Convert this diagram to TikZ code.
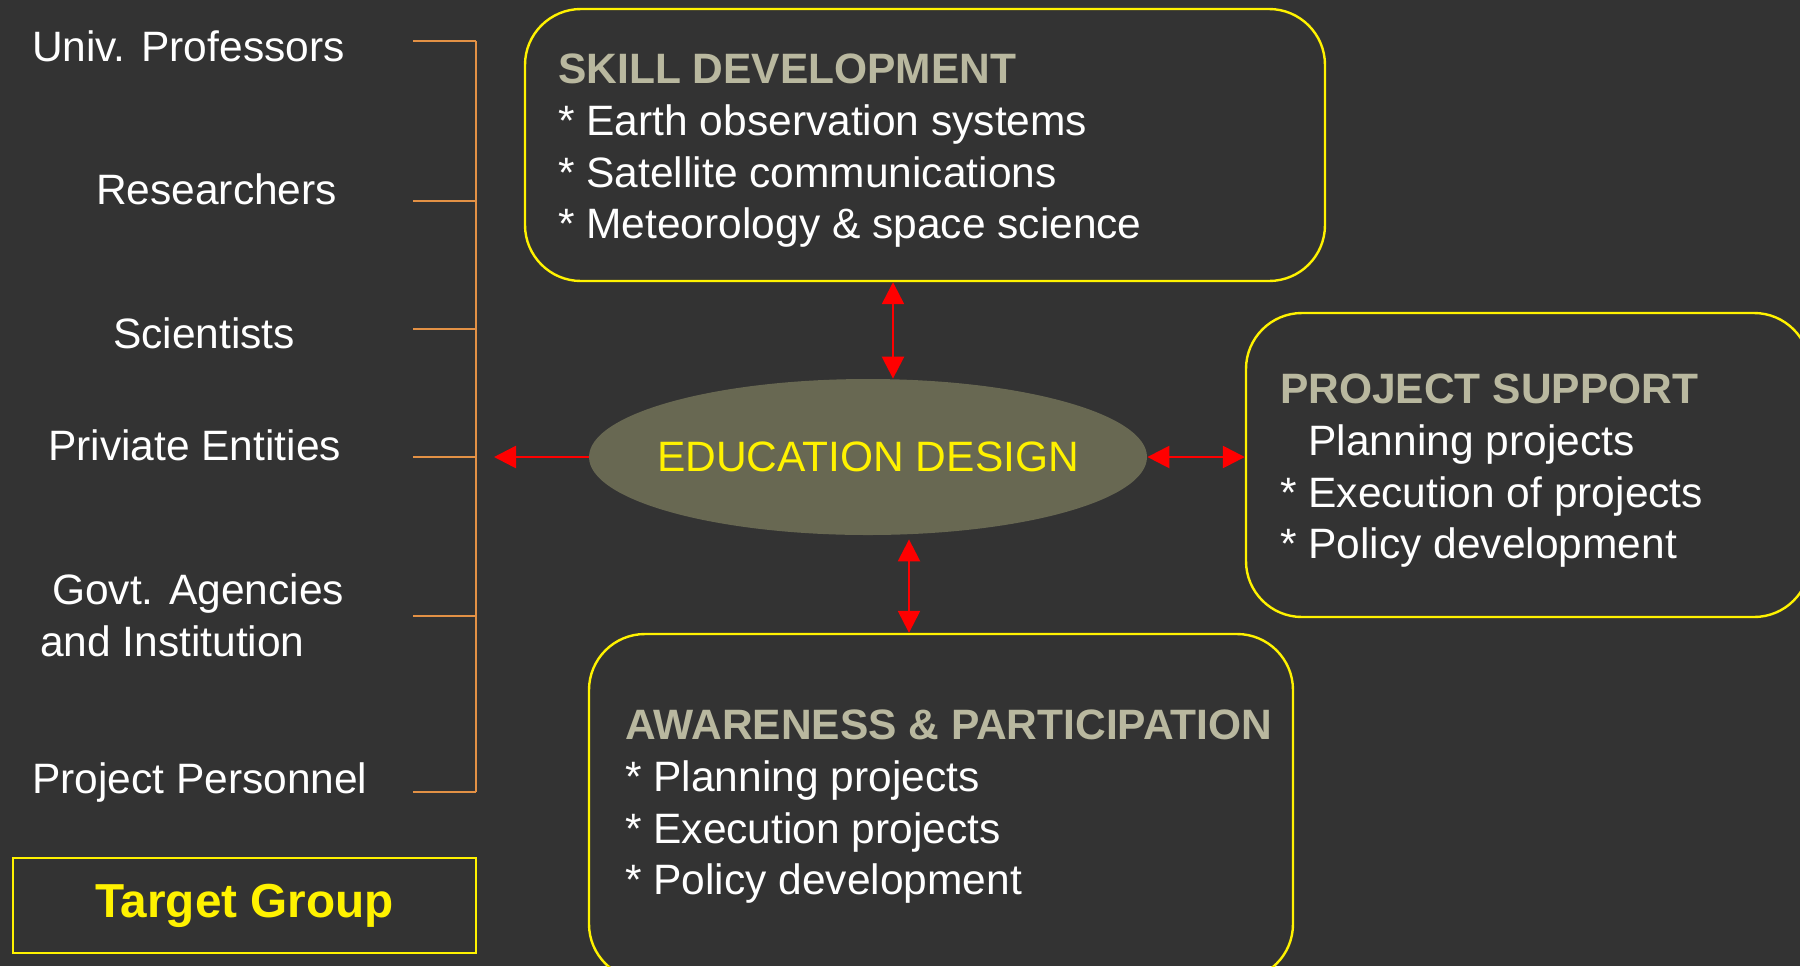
\documentclass[tikz,border=0pt]{standalone}
\usepackage{fontspec}
\setmainfont{Liberation Sans}
\usepackage{tikz}
\usetikzlibrary{positioning,shapes.geometric,arrows.meta}

\definecolor{bgcol}{HTML}{333333}
\definecolor{titlecol}{HTML}{B9B89F}
\definecolor{edufill}{HTML}{686852}
\definecolor{bracketcol}{HTML}{E39145}

\begin{document}
\begin{tikzpicture}[x=0.5pt,y=-0.5pt,
    every node/.style={text=white,font=\fontsize{21.25pt}{25.85pt}\selectfont},
    every label/.style={text=yellow,font=\fontsize{21.25pt}{25.85pt}\selectfont},
    panel/.style={draw=yellow,line width=1.2pt,rounded corners=28pt,inner sep=0pt},
    paneltext/.style={anchor=west,align=left,inner sep=0pt},
    bracketline/.style={draw=bracketcol,line width=1pt},
    redarrow/.style={red,line width=1.25pt,-{Triangle[length=11pt,width=11pt]}},
    biarrow/.style={red,line width=1.25pt,{Triangle[length=11pt,width=11pt]}-{Triangle[length=11pt,width=11pt]}}]
        \clip (0,0) rectangle (1800,966);
        \fill[bgcol] (0,0) rectangle (1800,966);

        \node[anchor=west] (prof) at (25,46) {Univ. Professors};
        \node[anchor=west] (res) at (89,189) {Researchers};
        \node[anchor=west] (sci) at (106,333) {Scientists};
        \node[anchor=west] (priv) at (41,445) {Priviate Entities};
        \node[anchor=west,align=left] (govt) at (33,615) {\hspace*{6pt}Govt. Agencies\\and Institution};
        \node[anchor=west] (pers) at (25,782) {Project Personnel};

        \node[draw=yellow,line width=1.2pt,minimum width=231.5pt,minimum height=47.5pt,
              text=yellow,font=\fontsize{23.85pt}{28pt}\selectfont\bfseries] (target) at (244.5,905.5) {\raisebox{-1.5pt}{Target Group}};

        \foreach \y [count=\i] in {41,201,329,457,616,792} {
            \coordinate (t\i) at (413,\y);
            \coordinate (b\i) at (476,\y);
            \draw[bracketline] (t\i) -- (b\i);
        }
        \draw[bracketline] (b1) -- (b6);

        \node[panel,minimum width=400pt,minimum height=136pt] (skill) at (925,145) {};
        \node[paneltext] (skilltext) at ([xshift=17pt,yshift=-3pt]skill.west)
            {\textcolor{titlecol}{\bfseries SKILL DEVELOPMENT}\\
             * Earth observation systems\\
             * Satellite communications\\
             * Meteorology \& space science};

        \node[panel,minimum width=282pt,minimum height=152pt] (project) at (1528,465) {};
        \node[paneltext] (projecttext) at ([xshift=17.5pt,yshift=-3pt]project.west)
            {\textcolor{titlecol}{\bfseries PROJECT SUPPORT}\\
             \hphantom{* }Planning projects\\
             * Execution of projects\\
             * Policy development};

        \node[panel,minimum width=352pt,minimum height=173pt] (aware) at (941,807) {};
        \node[paneltext] (awaretext) at ([xshift=18.5pt]aware.west)
            {\textcolor{titlecol}{\bfseries AWARENESS \& PARTICIPATION}\\
             * Planning projects\\
             * Execution projects\\
             * Policy development};

        \node[ellipse,fill=edufill,minimum width=279pt,minimum height=78pt,inner sep=0pt,
              label=center:{EDUCATION DESIGN}] (edu) at (868,457) {};

        \coordinate (topx) at (893,0);
        \coordinate (botx) at (909,0);
        \coordinate (groupend) at (494,457);

        \draw[biarrow] (skill.south -| topx) -- (edu.north -| topx);
        \draw[biarrow] ([yshift=-2pt]edu.south -| botx) -- (aware.north -| botx);
        \draw[biarrow] (edu.east) -- (edu.east -| project.west);
        \draw[redarrow] (edu.west) -- (groupend);
\end{tikzpicture}
\end{document}
